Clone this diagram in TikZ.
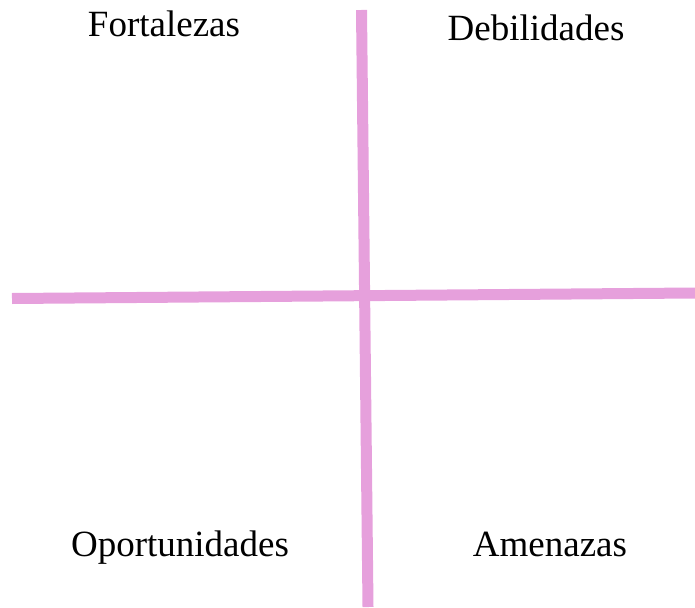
\documentclass[tikz,border=0pt]{standalone}
\usepackage{fontspec}
\setmainfont{Liberation Serif}
\definecolor{axispink}{HTML}{E6A0DC}
\begin{document}
\begin{tikzpicture}[x=1pt,y=-1pt,
  lbl/.style={anchor=base,inner sep=0pt,font=\fontsize{37}{40}\selectfont},
  axisline/.style={draw=axispink,line width=11pt}]
\useasboundingbox (0,0) rectangle (695,607);
\coordinate (vtop) at (361.5,10);
\coordinate (vbot) at (368,607);
\coordinate (hleft) at (12,298.5);
\coordinate (hright) at (695,293);
\draw[axisline] (vtop) -- (vbot);
\draw[axisline] (hleft) -- (hright);
\node[lbl] (f) at (164,36.7) {Fortalezas};
\node[lbl] (d) at (536,40.7) {Debilidades};
\node[lbl] (o) at (180,556.7) {Oportunidades};
\node[lbl] (a) at (550,556) {Amenazas};
\end{tikzpicture}
\end{document}
